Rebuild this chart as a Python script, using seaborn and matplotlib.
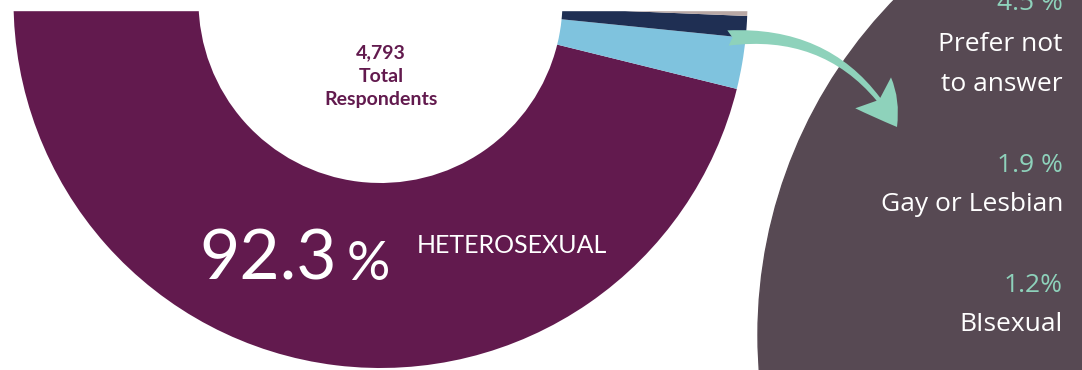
import matplotlib.pyplot as plt
import seaborn as sns
from matplotlib.patches import Circle, Rectangle, FancyArrowPatch

# --- tema base ---
sns.set_theme(style='white')
plt.rcParams['font.family'] = ['Lato', 'DejaVu Sans']

# --- datos ---
categorias = ['Heterosexual', 'Prefer not to answer', 'Gay or Lesbian', 'Bisexual', 'Other']
porcentajes = [92.3, 4.5, 1.9, 1.2, 0.1]
colores = ['#621a4e', '#7fc3de', '#1f2f53', '#b9a8a5', '#1b8ba3']
total_respondents = 4793
etiquetas_valor = ['4.5 %', '1.9 %', '1.2%']
etiquetas_nombre = [['Prefer not', 'to answer'], ['Gay or Lesbian'], ['BIsexual']]

morado = '#621a4e'
menta = '#8ed2bb'
gris_circulo = '#574953'

# --- lienzo en pixeles ---
fig = plt.figure(figsize=(10.82, 3.70), dpi=100)
ax = fig.add_axes([0, 0, 1, 1])

# --- media dona: la mitad superior queda vacia ---
valores = porcentajes + [sum(porcentajes)]
paleta = sns.color_palette(colores) + ['none']
ax.pie(valores, colors=paleta, startangle=180, counterclock=False,
       radius=367, center=(380.5, 1), frame=True,
       wedgeprops=dict(width=185, linewidth=0))
ax.add_patch(Rectangle((0, -5), 770, 15, color='white', zorder=3))

# --- texto central ---
for texto, yb in zip([f'{total_respondents:,}', 'Total', 'Respondents'], [58, 82, 105]):
    ax.text(381, yb, texto, ha='center', va='baseline',
            fontsize=14, fontweight='bold', color=morado)

# --- etiqueta principal ---
ax.text(337, 280, f'{porcentajes[0]}', ha='right', va='baseline',
        fontsize=50, color='white', zorder=4)
ax.text(347, 280, '%', ha='left', va='baseline',
        fontsize=39, color='white', zorder=4)
ax.text(417, 253, categorias[0].upper(), ha='left', va='baseline',
        fontsize=18, color='white', zorder=4)

# --- circulo de detalle ---
ax.add_patch(Circle((1238, 335), 480, color=gris_circulo, zorder=1))
base_valor = [10, 172, 292]
base_nombre = [[51, 91], [211], [331]]
for val, yv, nombres, ys in zip(etiquetas_valor, base_valor, etiquetas_nombre, base_nombre):
    ax.text(1063, yv, val, ha='right', va='baseline', fontsize=19,
            family=['Open Sans', 'DejaVu Sans'], color=menta, zorder=4)
    for linea, yn in zip(nombres, ys):
        ax.text(1063, yn, linea, ha='right', va='baseline', fontsize=19,
                family=['Open Sans', 'DejaVu Sans'], color='white', zorder=4)

# --- flecha ---
flecha = FancyArrowPatch((728, 38), (897, 127),
                         connectionstyle='arc3,rad=-0.32',
                         arrowstyle='fancy,head_length=3.0,head_width=3.4,tail_width=1.1',
                         mutation_scale=10, color=menta, lw=0,
                         shrinkA=0, shrinkB=0, zorder=5)
ax.add_patch(flecha)

ax.set_xlim(0, 1082)
ax.set_ylim(370, 0)
ax.set_aspect('equal')
ax.axis('off')

plt.savefig('out.png', dpi=100, facecolor='white')
